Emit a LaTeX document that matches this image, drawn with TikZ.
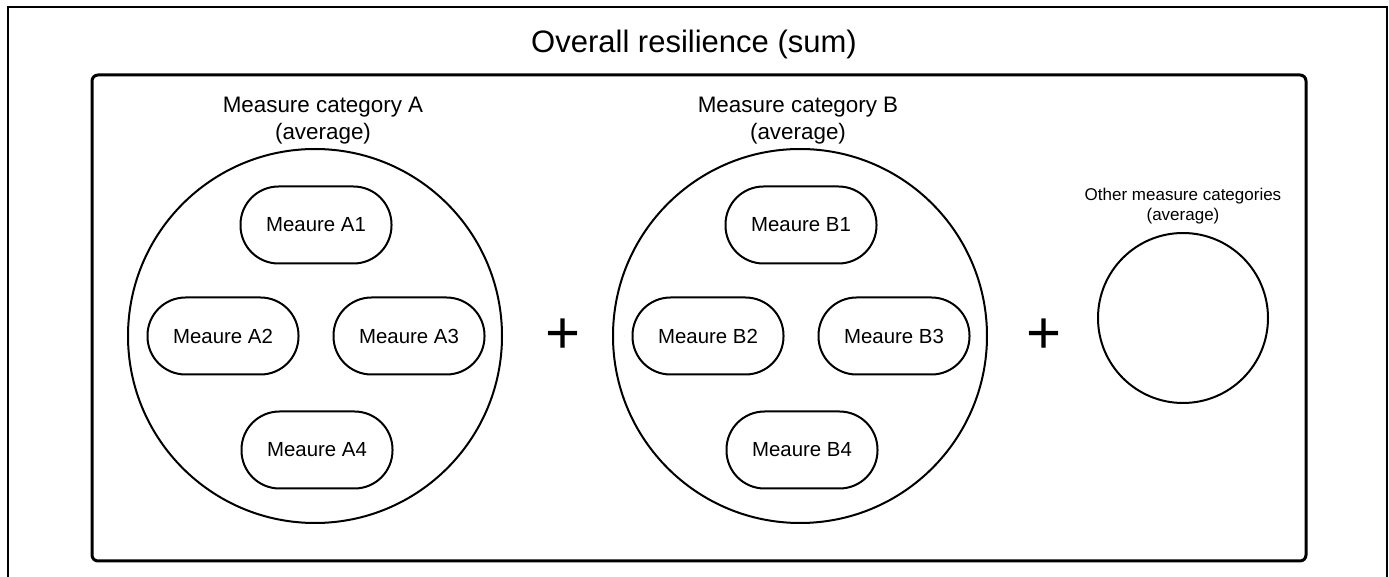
\documentclass[tikz,border=0pt]{standalone}
\usepackage{fontspec}
\setmainfont{Liberation Sans}
\tikzset{
  measure/.style={draw, line width=1pt, rounded corners=19pt, minimum width=75.5pt,
    minimum height=38.5pt, inner sep=0pt, font=\fontsize{10.2}{12}\selectfont},
  category/.style={draw, circle, line width=1pt, inner sep=0pt},
  catlabel/.style={align=center, font=\fontsize{11.2}{13.5}\selectfont},
  plussign/.style={font=\fontsize{30}{32}\selectfont, inner sep=0pt}
}
\begin{document}
\begin{tikzpicture}[x=0.5pt, y=-0.5pt]
   \useasboundingbox (0,0) rectangle (1389,577);
   % frame and box
   \draw[line width=1.1pt] (8,577) -- (8,7) -- (1387,7) -- (1387,577);
   \draw[line width=1.5pt, rounded corners=3pt] (92,75) rectangle (1306,561);
   \node[anchor=base, font=\fontsize{15.5}{18}\selectfont] (title) at (694,53) {Overall resilience (sum)};

   % category A
   \node[category, minimum size=187pt] (catA) at (315,336) {};
   \node[catlabel] (labA) at (323,121) {Measure category A\\(average)};
   \node[measure] (a1) at (316,225) {Meaure A1};
   \node[measure] (a2) at (223,336) {Meaure A2};
   \node[measure] (a3) at (409,336) {Meaure A3};
   \node[measure] (a4) at (317,450) {Meaure A4};

   \node[plussign] (plus1) at (563,336) {+};

   % category B
   \node[category, minimum size=187pt] (catB) at (800,336) {};
   \node[catlabel] (labB) at (798,121) {Measure category B\\(average)};
   \node[measure] (b1) at (801,225) {Meaure B1};
   \node[measure] (b2) at (708,336) {Meaure B2};
   \node[measure] (b3) at (894,336) {Meaure B3};
   \node[measure] (b4) at (802,450) {Meaure B4};

   \node[plussign] (plus2) at (1044,336) {+};

   % other categories
   \node[category, minimum size=85pt] (catOther) at (1183,318) {};
   \node[align=center, font=\fontsize{8.5}{9.8}\selectfont] (labOther) at (1183,206) {Other measure categories\\(average)};
\end{tikzpicture}
\end{document}
